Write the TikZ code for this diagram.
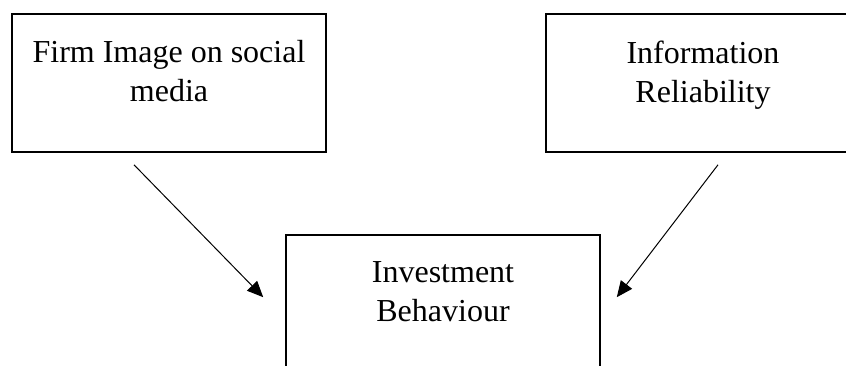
\documentclass[tikz,border=0pt]{standalone}
\usepackage{fontspec}
\setmainfont{Liberation Serif}
\usetikzlibrary{arrows.meta}

\begin{document}
\begin{tikzpicture}[x=0.5pt, y=0.5pt, >={Triangle[length=8pt, width=7pt]},
  box/.style={draw, line width=0.8pt, minimum width=157pt, minimum height=69pt, inner sep=0pt},
  txt/.style={align=center, inner sep=0pt, anchor=north, font=\fontsize{16}{19.5}\selectfont}]
\clip (0,0) rectangle (846,365);

% boxes
\node[box] (firm) at (169,282) {};
\node[box] (rel) at (703,282) {};
\node[box] (invest) at (443,61) {};

% box texts, near the top of each box
\node[txt] (firmtxt) at ([yshift=-13.5pt]firm.north) {Firm Image on social\\media};
\node[txt] (reltxt) at ([yshift=-13.5pt]rel.north) {Information\\Reliability};
\node[txt] (investtxt) at ([yshift=-13.5pt]invest.north) {Investment\\Behaviour};

% free ends of the arrows
\coordinate (firmout) at ([xshift=-17.5pt, yshift=-6pt]firm.south);
\coordinate (relout) at ([xshift=7.5pt, yshift=-6pt]rel.south);
\coordinate (investleft) at ([xshift=-11pt, yshift=-31.5pt]invest.north west);
\coordinate (investright) at ([xshift=8pt, yshift=-31.5pt]invest.north east);

% arrows
\draw[->, line width=0.5pt] (firmout) -- (investleft);
\draw[->, line width=0.5pt] (relout) -- (investright);
\end{tikzpicture}
\end{document}
